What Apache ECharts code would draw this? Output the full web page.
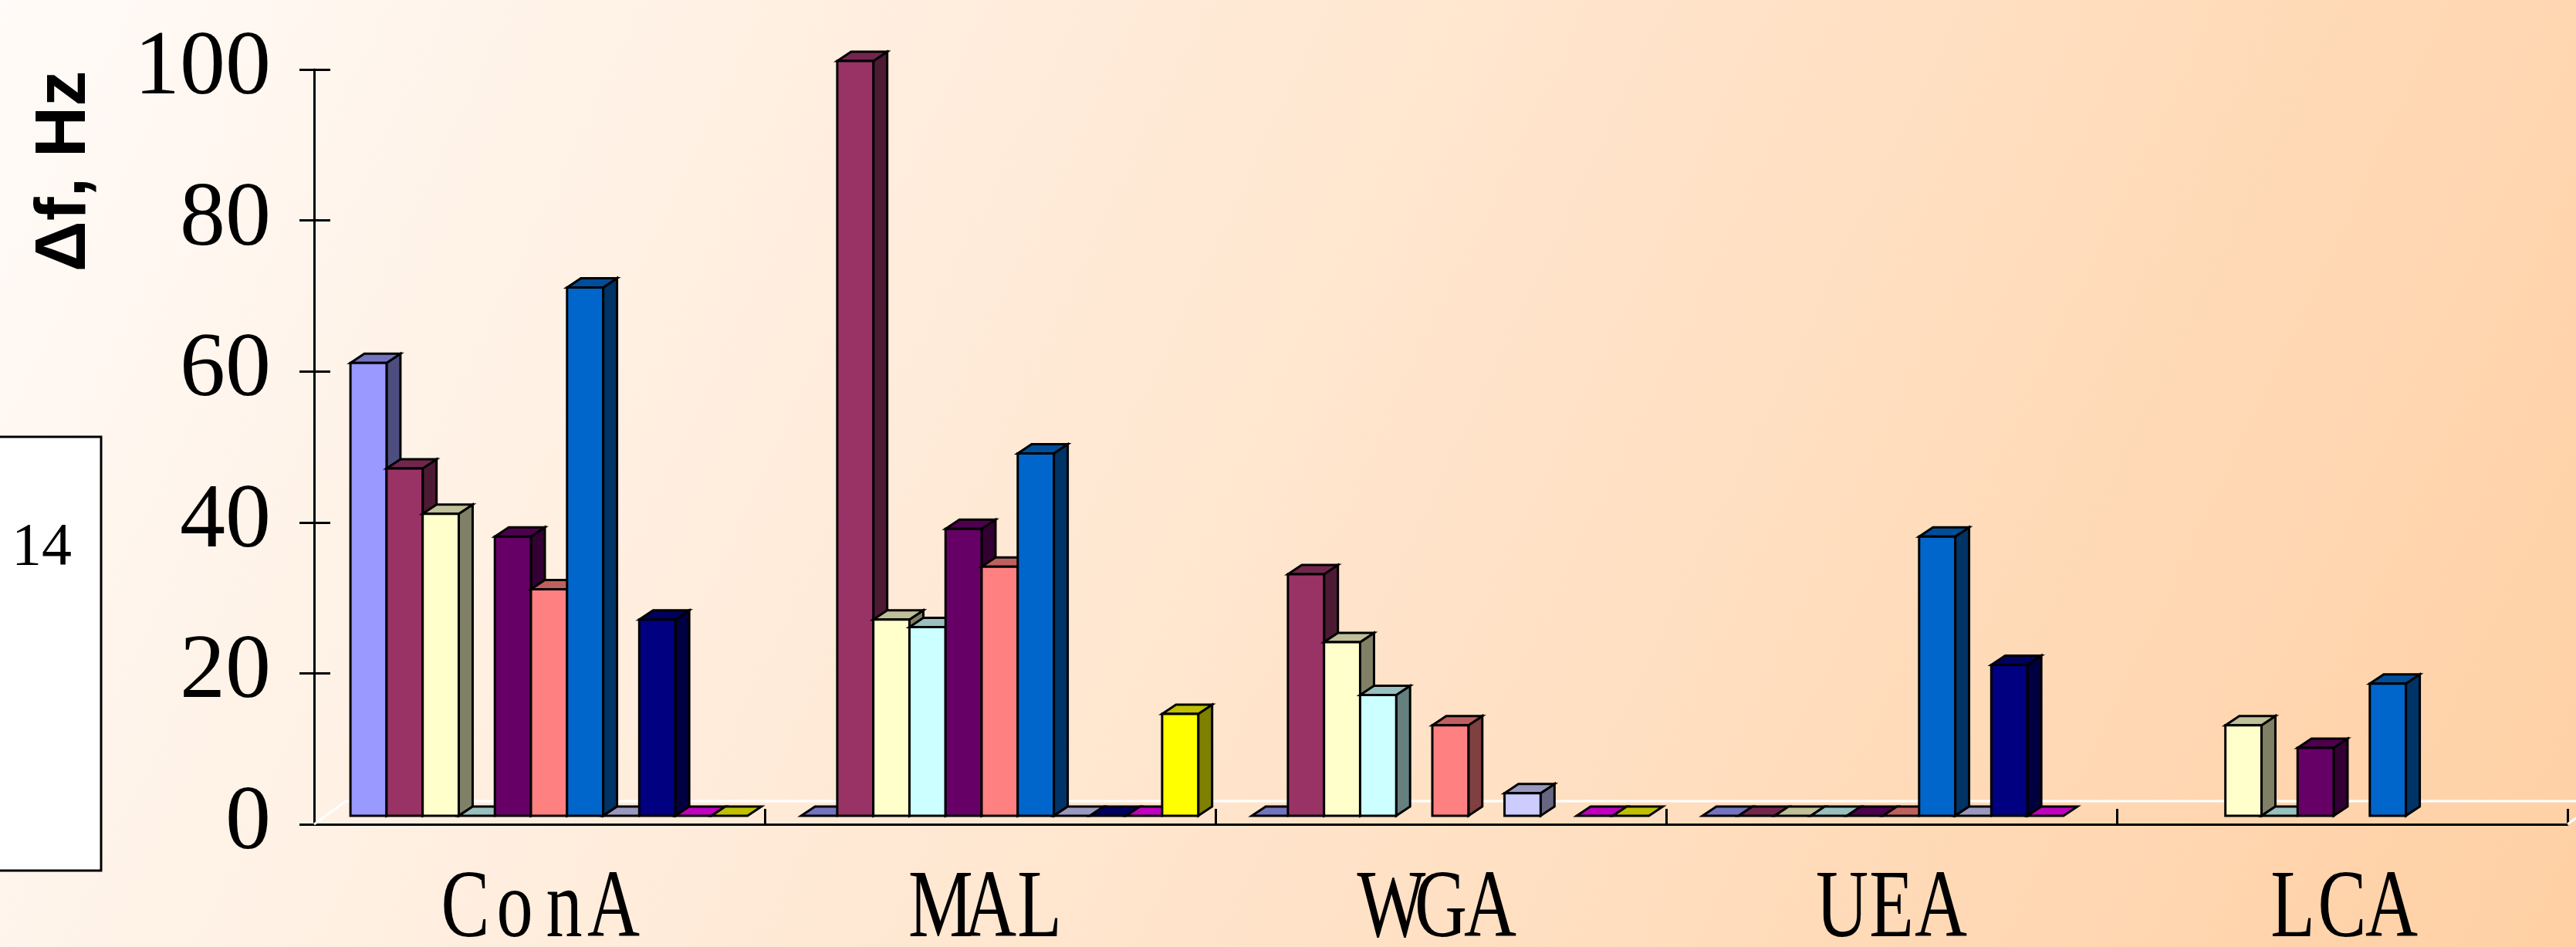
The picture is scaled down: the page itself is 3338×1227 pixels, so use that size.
<!DOCTYPE html>
<html>
<head>
<meta charset="utf-8">
<script src="https://cdn.jsdelivr.net/npm/echarts@6/dist/echarts.min.js"></script>
<style>
  html, body { margin: 0; padding: 0; overflow: hidden; background: #fff; }
  #chart { width: 3338px; height: 1227px; }
</style>
</head>
<body>
<div id="chart"></div>
<script>
// Lectin categories along the x axis
const categories = ['ConA', 'MAL', 'WGA', 'UEA', 'LCA'];
// Value axis ticks (Δf, Hz)
const valueTicks = [0, 20, 40, 60, 80, 100];

// Frequency shift per sample, one array per bar colour (null = no bar)
const periwinkle = [60, 0, 0, 0, null];
const plum       = [46, 100, 32, 0, null];
const ivory      = [40, 26, 23, 0, 12];
const turquoise  = [0, 25, 16, 0, 0];
const purple     = [37, 38, null, 0, 9];
const coral      = [30, 33, 12, 0, null];
const ocean      = [70, 48, null, 37, 17.5];
const iceBlue    = [0, 0, 3, 0, null];
const navy       = [26, 0, null, 20, null];
const pink       = [0, 0, 0, 0, null];
const yellow     = [0, 13.5, 0, null, null];

const seriesValues = [periwinkle, plum, ivory, turquoise, purple, coral, ocean, iceBlue, navy, pink, yellow];
const faceColors = ['#9999FF', '#993366', '#FFFFCC', '#CCFFFF', '#660066', '#FF8080',
                    '#0066CC', '#CCCCFF', '#000080', '#FF00FF', '#FFFF00'];

// Layout of the pseudo-3D plot
const GRID = { left: 407, right: 11, top: 90, bottom: 159 };
const BAR_DEPTH = [18, 12];     // offset of a box's back face
const BAR_INSET = [15, 11];     // boxes stand this far behind the floor's front edge
const FLOOR_DEPTH = [41, 30];   // depth of the floor plane
const GROUP_PAD = 0.055;        // gap before the first box, share of a category
const SLOT = 0.0801;            // box width, share of a category

function shade(hex, f) {
  const n = parseInt(hex.slice(1), 16);
  const r = Math.round(((n >> 16) & 255) * f);
  const g = Math.round(((n >> 8) & 255) * f);
  const b = Math.round((n & 255) * f);
  return 'rgb(' + r + ',' + g + ',' + b + ')';
}

function boxRenderer(k) {
  const face = faceColors[k];
  const topFill = shade(face, 0.75);
  const sideFill = shade(face, 0.5);
  return function (params, api) {
    const cat = api.value(0);
    const v = api.value(1);
    const W = api.size([1, 0])[0];
    const base = api.coord([cat, 0]);
    const head = api.coord([cat, v]);
    const w = W * SLOT;
    const x0 = base[0] - W / 2 + W * GROUP_PAD + k * w + BAR_INSET[0];
    const yb = base[1] - BAR_INSET[1];
    const yt = head[1] - BAR_INSET[1];
    const dx = BAR_DEPTH[0], dy = BAR_DEPTH[1];
    const line = { stroke: '#000', lineWidth: 3, lineJoin: 'miter' };
    const children = [];
    if (yb - yt > 0.5) {
      children.push({
        type: 'polygon',
        shape: { points: [[x0 + w, yt], [x0 + w, yb], [x0 + w + dx, yb - dy], [x0 + w + dx, yt - dy]] },
        style: Object.assign({ fill: sideFill }, line)
      });
    }
    children.push({
      type: 'polygon',
      shape: { points: [[x0, yt], [x0 + w, yt], [x0 + w + dx, yt - dy], [x0 + dx, yt - dy]] },
      style: Object.assign({ fill: topFill }, line)
    });
    if (yb - yt > 0.5) {
      children.push({
        type: 'rect',
        shape: { x: x0, y: yt, width: w, height: yb - yt },
        style: Object.assign({ fill: face }, line)
      });
    }
    return { type: 'group', children: children };
  };
}

const series = seriesValues.map(function (vals, k) {
  const data = [];
  vals.forEach(function (v, i) { if (v !== null) data.push([i, v]); });
  return {
    type: 'custom',
    coordinateSystem: 'cartesian2d',
    renderItem: boxRenderer(k),
    data: data,
    z: 3,
    silent: true,
    clip: false
  };
});

const chart = echarts.init(document.getElementById('chart'), null, { renderer: 'canvas' });

const yBase = {
  type: 'value',
  min: valueTicks[0],
  max: valueTicks[valueTicks.length - 1],
  interval: valueTicks[1] - valueTicks[0],
  position: 'left',
  splitLine: { show: false }
};

chart.setOption({
  animation: false,
  grid: GRID,
  xAxis: {
    type: 'category',
    data: categories,
    axisLine: { lineStyle: { color: '#000', width: 3 } },
    axisTick: { show: true, inside: true, length: 20, lineStyle: { color: '#000', width: 3 } },
    axisLabel: { show: false },
    splitLine: { show: false }
  },
  yAxis: [
    Object.assign({}, yBase, {
      axisLine: { show: true, lineStyle: { color: '#000', width: 3 } },
      axisTick: { show: true, inside: false, length: 19, lineStyle: { color: '#000', width: 3 } },
      axisLabel: {
        show: true, margin: 56, color: '#000',
        fontFamily: '"Liberation Serif", serif', fontSize: 118
      }
    }),
    Object.assign({}, yBase, {
      axisLine: { show: false },
      axisTick: { show: true, inside: true, length: 21, lineStyle: { color: '#000', width: 3 } },
      axisLabel: { show: false }
    })
  ],
  series: series
});

// Decorations: background, floor outline, titles and category names
const W = 3338, H = 1227;
const floorY = H - GRID.bottom;
const floorL = GRID.left, floorR = W - GRID.right;

function monoText(str) {
  return str.split('').map(function (ch) { return '{c|' + ch + '}'; }).join('');
}

const graphics = [
  {
    type: 'rect', z: -100, silent: true,
    shape: { x: 0, y: 0, width: W, height: H },
    style: {
      fill: new echarts.graphic.LinearGradient(0, 0, 1, 1.3, [
        { offset: 0, color: '#FFFBF8' },
        { offset: 1, color: '#FFCEA0' }
      ])
    }
  },
  {
    type: 'polyline', z: 1, silent: true,
    shape: { points: [[floorL, floorY], [floorL + FLOOR_DEPTH[0], floorY - FLOOR_DEPTH[1]], [W + 10, floorY - FLOOR_DEPTH[1]]] },
    style: { stroke: '#fff', lineWidth: 3, fill: null }
  },
  {
    type: 'line', z: 1, silent: true,
    shape: { x1: floorR, y1: floorY, x2: floorR + FLOOR_DEPTH[0], y2: floorY - FLOOR_DEPTH[1] },
    style: { stroke: '#fff', lineWidth: 3 }
  },
  {
    type: 'text', z: 10, silent: true,
    x: 85, y: 222, rotation: Math.PI / 2,
    style: {
      text: 'Δf, Hz', align: 'center', verticalAlign: 'middle',
      font: 'bold 92px "Liberation Sans", sans-serif', fill: '#000'
    }
  },
  {
    type: 'rect', z: 10, silent: true,
    shape: { x: -4, y: 566, width: 135, height: 562 },
    style: { fill: '#fff', stroke: '#000', lineWidth: 3 }
  },
  {
    type: 'text', z: 11, silent: true,
    x: 54, y: 711,
    style: {
      text: '14', align: 'center', verticalAlign: 'middle',
      font: '78px "Liberation Serif", serif', fill: '#000'
    }
  }
];

const LABEL_SCALE = 0.76;
categories.forEach(function (name) {
  const cx = chart.convertToPixel({ xAxisIndex: 0 }, name);
  graphics.push({
    type: 'text', z: 10, silent: true,
    x: cx, y: 1180, scaleX: LABEL_SCALE,
    style: {
      text: monoText(name), align: 'center', verticalAlign: 'middle',
      fill: '#000',
      rich: {
        c: {
          width: 64 / LABEL_SCALE, align: 'center',
          font: '124px "Liberation Serif", serif', fill: '#000'
        }
      }
    }
  });
});

chart.setOption({ graphic: { elements: graphics } });
</script>
</body>
</html>
